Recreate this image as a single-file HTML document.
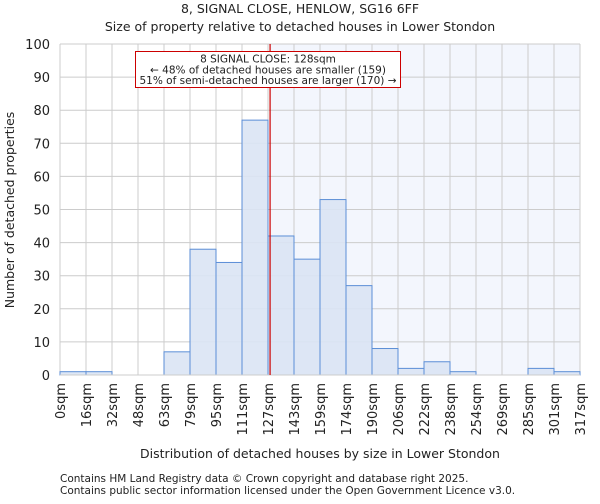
<!DOCTYPE html>
<html><head><meta charset="utf-8"><style>
body{margin:0;background:#fff;font-family:"DejaVu Sans","Liberation Sans",sans-serif}
text{font-family:"DejaVu Sans","Liberation Sans",sans-serif;fill:#222}
</style></head><body>
<svg id="c" width="600" height="500">
<text x="300" y="13" text-anchor="middle" font-size="12.5">8, SIGNAL CLOSE, HENLOW, SG16 6FF</text>
<text x="300" y="31" text-anchor="middle" font-size="12.5">Size of property relative to detached houses in Lower Stondon</text>
<g id="plot"></g>
<text x="14" y="210" text-anchor="middle" font-size="12.5" transform="rotate(-90 14 210)">Number of detached properties</text>
<text x="320" y="458" text-anchor="middle" font-size="12.5">Distribution of detached houses by size in Lower Stondon</text>
<text x="60" y="482" font-size="10.5" fill="#444">Contains HM Land Registry data © Crown copyright and database right 2025.</text>
<text x="60" y="494" font-size="10.5" fill="#444">Contains public sector information licensed under the Open Government Licence v3.0.</text>
</svg>
<script>
const binLabels=["0sqm","16sqm","32sqm","48sqm","63sqm","79sqm","95sqm","111sqm","127sqm","143sqm","159sqm","174sqm","190sqm","206sqm","222sqm","238sqm","254sqm","269sqm","285sqm","301sqm","317sqm"];
const counts=[1,1,0,0,7,38,34,77,42,35,53,27,8,2,4,1,0,0,2,1];
const yTicks=[0,10,20,30,40,50,60,70,80,90,100];
const markerBin=8.08;
const NS="http://www.w3.org/2000/svg";
const X0=60,X1=580,Y0=375,Y1=44,yMax=100;
const bw=(X1-X0)/counts.length;
const xs=i=>X0+i*bw;
const ys=v=>Y0-(v/yMax)*(Y0-Y1);
const g=document.getElementById('plot');
function mk(t,a){const e=document.createElementNS(NS,t);for(const k in a)e.setAttribute(k,a[k]);g.appendChild(e);return e;}
const mx=xs(markerBin);
let sh=mk('rect',{x:mx,y:Y1,width:X1-mx,height:Y0-Y1,fill:'#f3f6fd'});


yTicks.forEach(v=>{
 let l=mk('line',{x1:X0,x2:X1,y1:ys(v),y2:ys(v),stroke:'#cccccc'});
 
 
 let t=mk('text',{x:X0-10,y:ys(v)+5,'text-anchor':'end','font-size':'13'});t.textContent=v;
 
 
});
binLabels.forEach((s,i)=>{
 let l=mk('line',{x1:xs(i),x2:xs(i),y1:Y1,y2:Y0,stroke:'#cccccc'});
 
 
 let t=mk('text',{x:0,y:0,'text-anchor':'end','font-size':'13',transform:`translate(${xs(i)+5},${Y0+8}) rotate(-90)`});t.textContent=s;
 
 
});
counts.forEach((v,i)=>{
 if(v<=0)return;
 let r=mk('rect',{x:xs(i),y:ys(v),width:bw,height:Y0-ys(v),fill:'#dae4f4',stroke:'#5b8ed6','stroke-width':1,'fill-opacity':0.9});
 
 
});
let ax=mk('line',{x1:X0,x2:X1,y1:Y0,y2:Y0,stroke:'#cccccc'});


let ml=mk('line',{x1:mx,x2:mx,y1:Y1,y2:Y0,stroke:'#cc0000','stroke-width':1.2});


let box=mk('rect',{x:135.5,y:51.5,width:265,height:36,fill:'#fff',stroke:'#cc0000'});


["8 SIGNAL CLOSE: 128sqm","← 48% of detached houses are smaller (159)","51% of semi-detached houses are larger (170) →"].forEach((s,i)=>{
 let t=mk('text',{x:268,y:62.5+i*10.8,'text-anchor':'middle','font-size':'10.5'});t.textContent=s;
 
 
});
</script>
</body></html>
